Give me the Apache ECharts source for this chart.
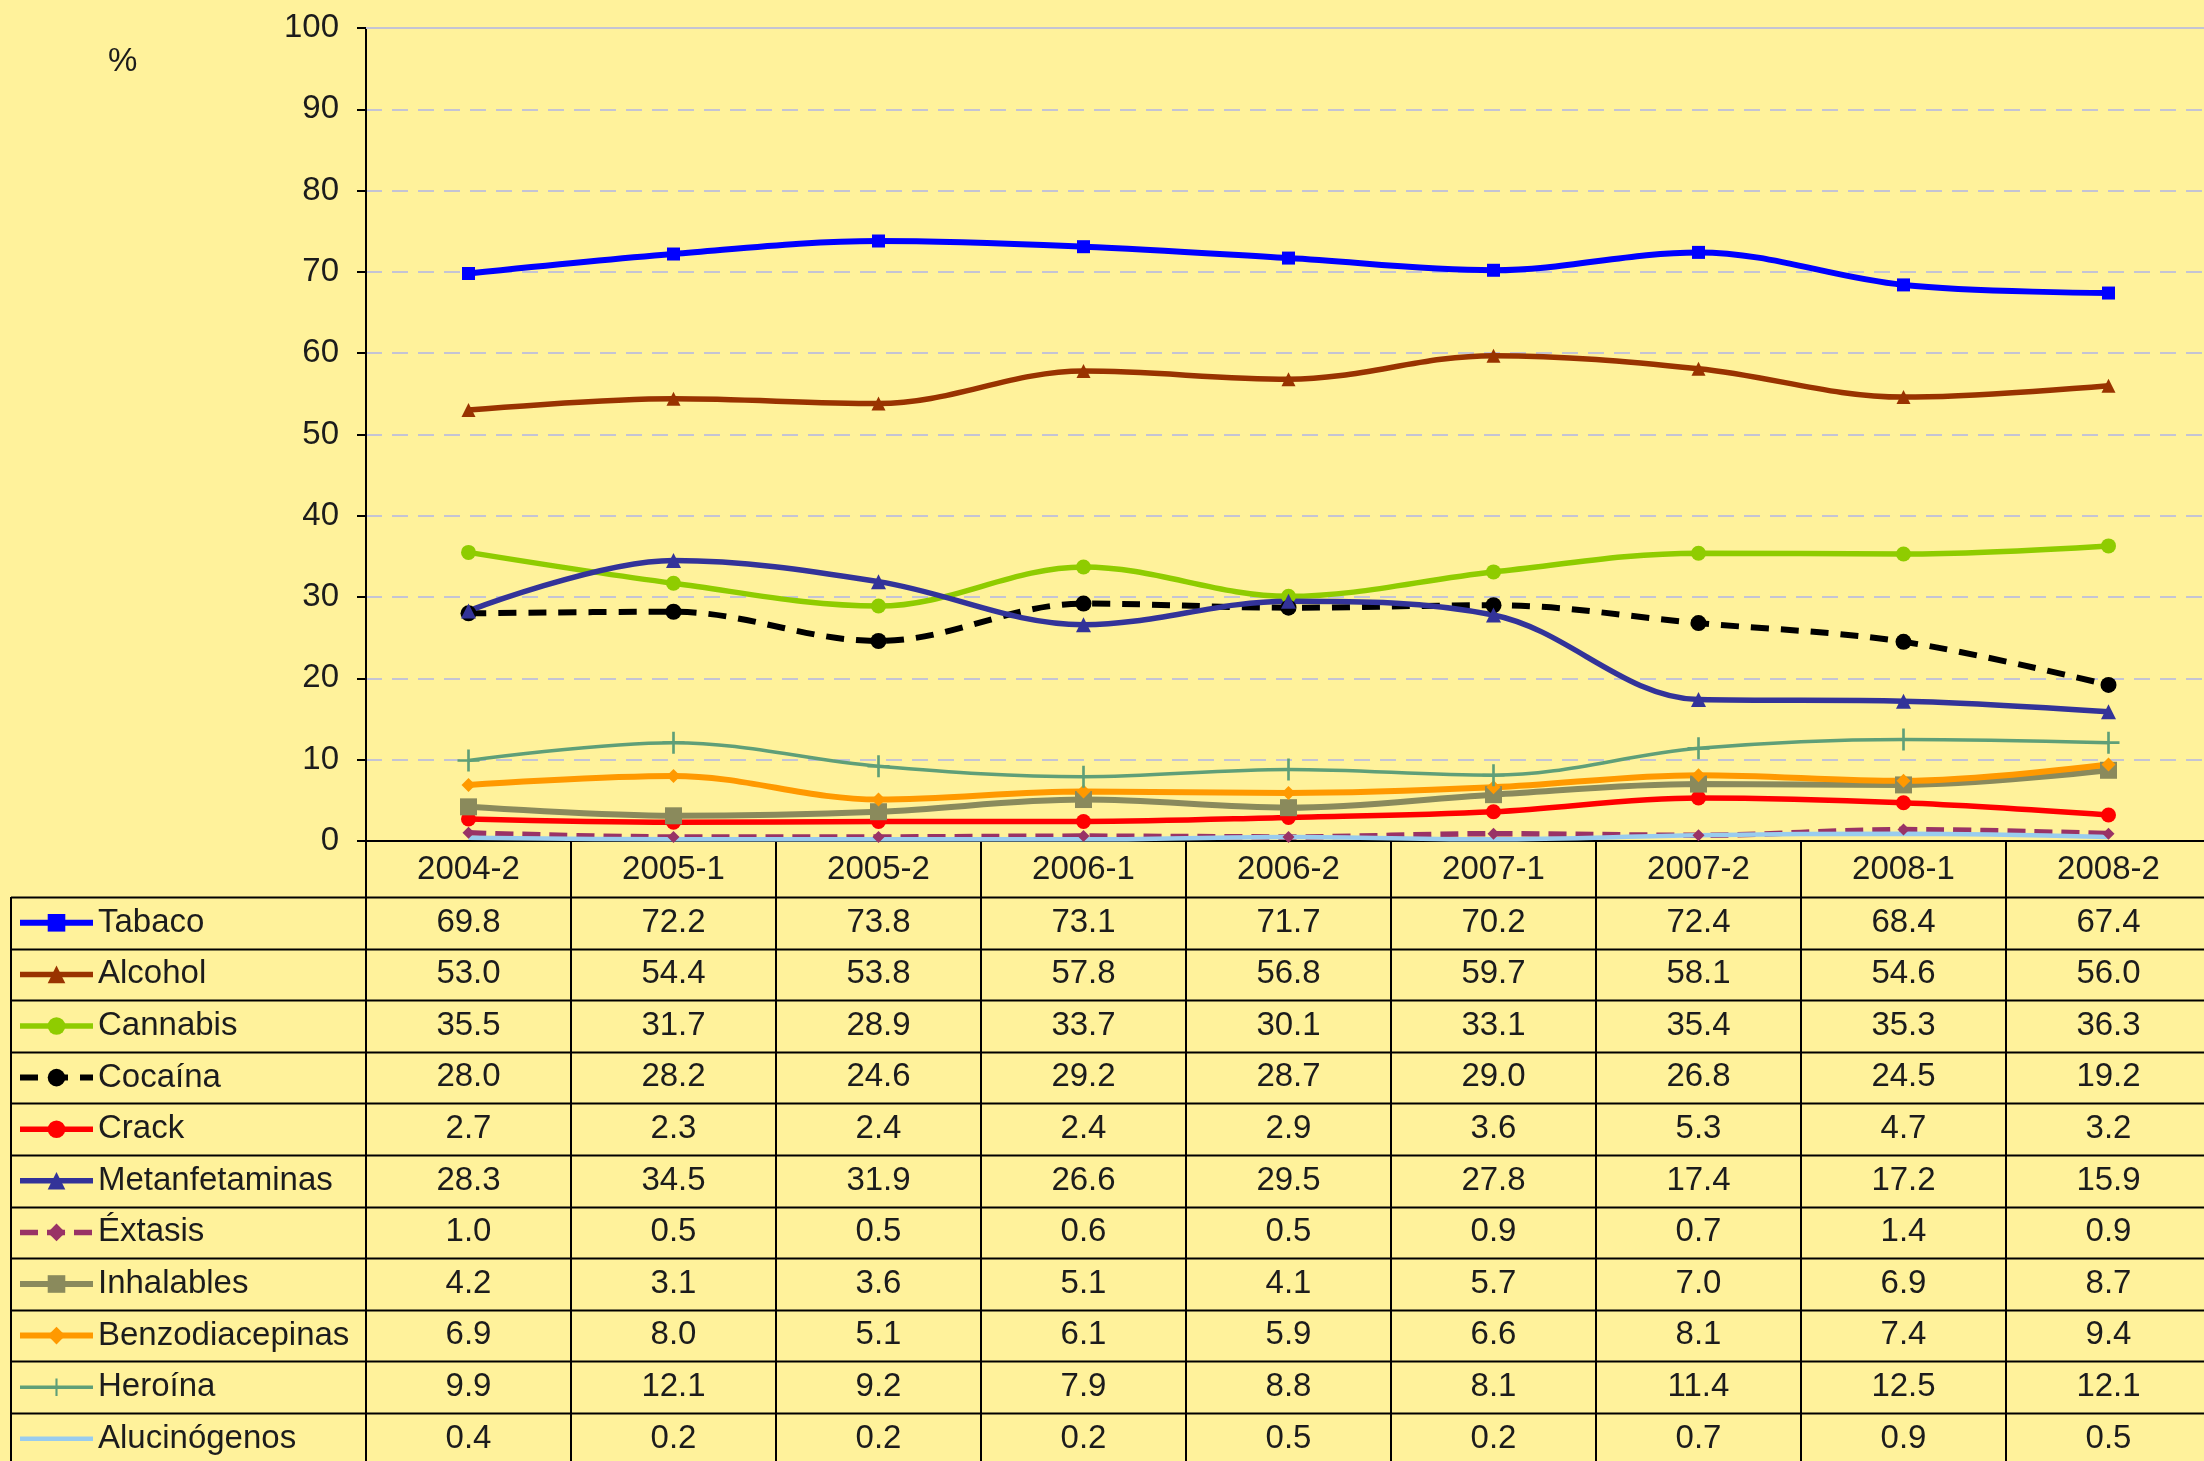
<!DOCTYPE html>
<html>
<head>
<meta charset="utf-8">
<script src="https://cdn.jsdelivr.net/npm/echarts@6/dist/echarts.min.js"></script>
<style>
  html, body { margin: 0; padding: 0; background: #fff29b; }
  #chart { width: 2204px; height: 1461px; }
</style>
</head>
<body>
<div id="chart"></div>
<script>
const periods = ['2004-2', '2005-1', '2005-2', '2006-1', '2006-2', '2007-1', '2007-2', '2008-1', '2008-2'];
const yTicks = [0, 100, 10];

const tabaco = [69.8, 72.2, 73.8, 73.1, 71.7, 70.2, 72.4, 68.4, 67.4];
const alcohol = [53.0, 54.4, 53.8, 57.8, 56.8, 59.7, 58.1, 54.6, 56.0];
const cannabis = [35.5, 31.7, 28.9, 33.7, 30.1, 33.1, 35.4, 35.3, 36.3];
const cocaina = [28.0, 28.2, 24.6, 29.2, 28.7, 29.0, 26.8, 24.5, 19.2];
const crack = [2.7, 2.3, 2.4, 2.4, 2.9, 3.6, 5.3, 4.7, 3.2];
const metanfetaminas = [28.3, 34.5, 31.9, 26.6, 29.5, 27.8, 17.4, 17.2, 15.9];
const extasis = [1.0, 0.5, 0.5, 0.6, 0.5, 0.9, 0.7, 1.4, 0.9];
const inhalables = [4.2, 3.1, 3.6, 5.1, 4.1, 5.7, 7.0, 6.9, 8.7];
const benzodiacepinas = [6.9, 8.0, 5.1, 6.1, 5.9, 6.6, 8.1, 7.4, 9.4];
const heroina = [9.9, 12.1, 9.2, 7.9, 8.8, 8.1, 11.4, 12.5, 12.1];
const alucinogenos = [0.4, 0.2, 0.2, 0.2, 0.5, 0.2, 0.7, 0.9, 0.5];

const seriesNames = ['Tabaco', 'Alcohol', 'Cannabis', 'Cocaína', 'Crack', 'Metanfetaminas',
    'Éxtasis', 'Inhalables', 'Benzodiacepinas', 'Heroína', 'Alucinógenos'];
const seriesValues = [tabaco, alcohol, cannabis, cocaina, crack, metanfetaminas,
    extasis, inhalables, benzodiacepinas, heroina, alucinogenos];

// look of each line, same order as the names
const looks = [
    { color: '#0000ff', width: 6, symbol: 'rect', size: 13 },
    { color: '#993300', width: 5.5, symbol: 'triangle', size: 14 },
    { color: '#8fcc00', width: 5.5, symbol: 'circle', size: 15 },
    { color: '#000000', width: 6, symbol: 'circle', size: 16, dash: [18, 12] },
    { color: '#ff0000', width: 5.5, symbol: 'circle', size: 15 },
    { color: '#333399', width: 5.5, symbol: 'triangle', size: 15 },
    { color: '#993366', width: 5.5, symbol: 'diamond', size: 12, dash: [18, 9] },
    { color: '#8a8a5c', width: 6, symbol: 'rect', size: 17 },
    { color: '#ff9900', width: 6, symbol: 'diamond', size: 14 },
    { color: '#5f9f78', width: 3.5, symbol: 'path://M4.4,0H5.6V4.4H10V5.6H5.6V10H4.4V5.6H0V4.4H4.4Z', size: 22 },
    { color: '#99ccee', width: 4.5, symbol: 'none', size: 0 }
];

const font = 'Liberation Sans, Arial, sans-serif';
const fontSize = 33;
const textColor = '#1c1c1c';

// layout of plot + table
const gridLeft = 366, gridTop = 28, bandW = 205, plotH = 813;
const headerH = 56, rowH = 51.6, tableLeft = 11;
const plotBottom = gridTop + plotH;
const firstRowTop = plotBottom + headerH;

let myChart = echarts.init(document.getElementById('chart'));

// value rows of the table, one category axis per series
const rowAxes = seriesValues.map((vals, i) => ({
    type: 'category',
    gridIndex: 0,
    data: periods,
    position: 'bottom',
    offset: headerH + i * rowH,
    axisLine: { show: false },
    axisTick: { show: false },
    axisLabel: {
        interval: 0,
        margin: 9,
        fontSize: fontSize,
        fontFamily: font,
        color: textColor,
        formatter: (v, idx) => vals[idx].toFixed(1)
    }
}));

// horizontal table rules + left border
const tableLines = [];
for (let i = 0; i <= seriesNames.length; i++) {
    const y = Math.round(firstRowTop + i * rowH) + 0.5;
    tableLines.push({
        type: 'line',
        shape: { x1: tableLeft, y1: y, x2: 2204, y2: y },
        style: { stroke: '#000', lineWidth: 2 }
    });
}
tableLines.push({
    type: 'line',
    shape: { x1: tableLeft, y1: firstRowTop, x2: tableLeft, y2: 1461 },
    style: { stroke: '#000', lineWidth: 2 }
});

// legend entries; the line without markers gets no marker in its key either
const legendItems = seriesNames.map((name, i) =>
    looks[i].symbol === 'none' ? { name: name, itemStyle: { opacity: 0 } } : { name: name });

myChart.setOption({
    backgroundColor: '#fff29b',
    animation: false,
    title: {
        text: '%',
        left: 103,
        top: 40,
        textStyle: { fontSize: fontSize, fontWeight: 'normal', fontFamily: font, color: textColor }
    },
    legend: {
        data: legendItems,
        orient: 'vertical',
        left: 17,
        top: firstRowTop + rowH / 2 - 18,
        padding: 0,
        itemWidth: 73,
        itemHeight: 22,
        itemGap: rowH - 36,
        selectedMode: false,
        lineStyle: { width: 'inherit' },
        textStyle: { fontSize: fontSize, lineHeight: 36, fontFamily: font, color: textColor }
    },
    grid: {
        left: gridLeft, top: gridTop, width: bandW * periods.length, height: plotH,
        outerBoundsMode: 'none'
    },
    xAxis: [
        {
            type: 'category',
            data: periods,
            boundaryGap: true,
            axisLine: { lineStyle: { color: '#000', width: 2 } },
            axisTick: { show: true, interval: 0, length: 640, lineStyle: { color: '#000', width: 2 } },
            axisLabel: { interval: 0, margin: 12, fontSize: fontSize, fontFamily: font, color: textColor }
        },
        {
            type: 'category',
            data: periods,
            position: 'top',
            axisLine: { lineStyle: { color: '#c4c4d4', width: 2 } },
            axisTick: { show: false },
            axisLabel: { show: false }
        },
        ...rowAxes
    ],
    yAxis: {
        type: 'value',
        min: yTicks[0],
        max: yTicks[1],
        interval: yTicks[2],
        axisLine: { show: true, lineStyle: { color: '#000', width: 2 } },
        axisTick: { show: true, length: 9, lineStyle: { color: '#000', width: 2 } },
        axisLabel: { margin: 27, fontSize: fontSize, fontFamily: font, color: textColor },
        splitLine: { lineStyle: { color: '#c4c4d4', width: 2, type: [16, 10] } }
    },
    graphic: tableLines,
    series: seriesNames.map((name, i) => ({
        name: name,
        type: 'line',
        xAxisIndex: 0,
        yAxisIndex: 0,
        data: seriesValues[i],
        smooth: 0.35,
        symbol: looks[i].symbol,
        symbolSize: looks[i].size,
        showSymbol: looks[i].symbol !== 'none',
        lineStyle: { color: looks[i].color, width: looks[i].width, type: looks[i].dash || 'solid' },
        itemStyle: { color: looks[i].color, borderWidth: 0 }
    }))
});
</script>
</body>
</html>
